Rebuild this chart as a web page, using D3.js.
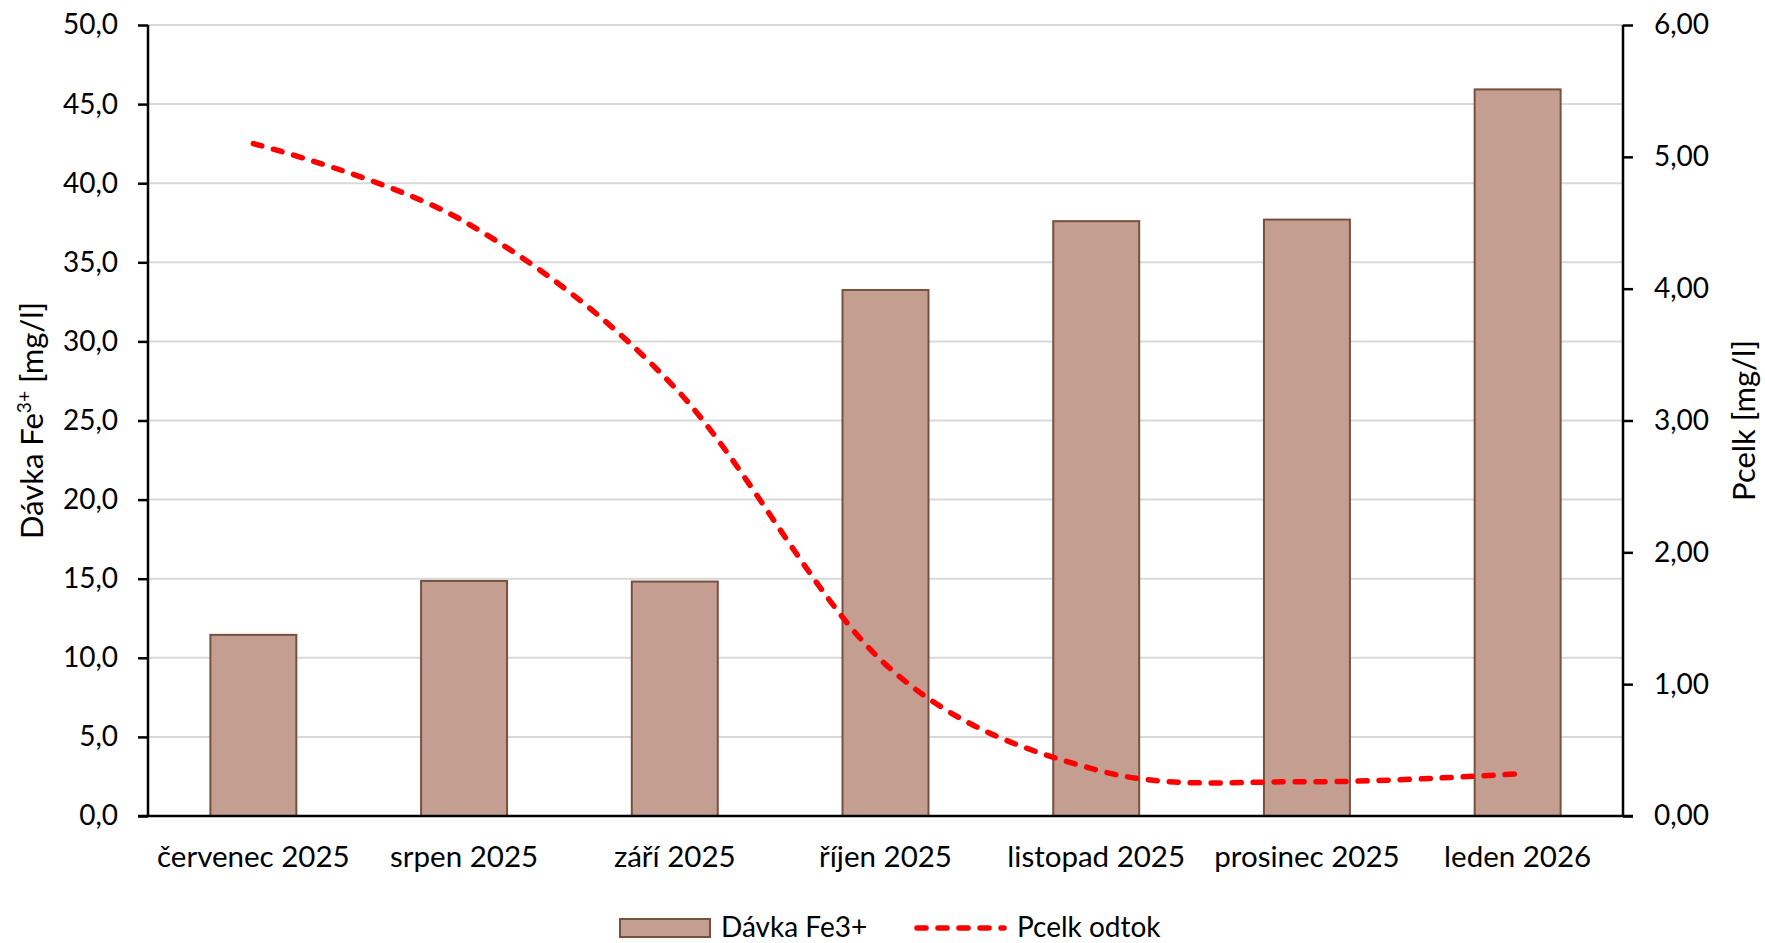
<!DOCTYPE html>
<html><head><meta charset="utf-8">
<script src="https://cdn.jsdelivr.net/npm/d3@7"></script>
<style>
html,body{margin:0;padding:0;background:#fff;}
svg{display:block;font-family:Lato, "Noto Sans", sans-serif;}
</style></head>
<body>
<svg id="chart" width="1765" height="943"></svg>
<script>
const categories = ["červenec 2025","srpen 2025","září 2025","říjen 2025","listopad 2025","prosinec 2025","leden 2026"];
const doseFe = [11.45, 14.86, 14.82, 33.25, 37.6, 37.7, 45.93];
const pTotal = [5.10, 4.51, 3.25, 1.15, 0.35, 0.26, 0.32];
const leftTicks = [0,5,10,15,20,25,30,35,40,45,50];
const rightTicks = [0,1,2,3,4,5,6];
const seriesNames = ["Dávka Fe3+","Pcelk odtok"];

const svg = d3.select("#chart");
const L = 148, R = 1623, T = 25, B = 816;
const tickFont = 28, catFont = 29.5, titleFont = 31;

const x = d3.scaleBand().domain(categories).range([L, R]).paddingInner(0.592).paddingOuter(0.296);
const yL = d3.scaleLinear().domain([0, 50]).range([B, T]);
const yR = d3.scaleLinear().domain([0, 6]).range([B, T]);

// gridlines
svg.append("g").selectAll("line").data(leftTicks.slice(1)).join("line")
  .attr("x1", L).attr("x2", R).attr("y1", d => yL(d)).attr("y2", d => yL(d))
  .attr("stroke", "#D9D9D9").attr("stroke-width", 2);

// bars
svg.append("g").selectAll("rect").data(doseFe).join("rect")
  .attr("x", (d,i) => x(categories[i]))
  .attr("y", d => yL(d))
  .attr("width", x.bandwidth())
  .attr("height", d => yL(0) - yL(d))
  .attr("fill", "#C49E91").attr("stroke", "#77513F").attr("stroke-width", 2);

// left axis
const gL = svg.append("g").attr("transform", `translate(${L},0)`)
  .call(d3.axisLeft(yL).tickValues(leftTicks).tickSize(10).tickPadding(20)
    .tickFormat(d => d3.format(".1f")(d).replace(".", ",")));
// right axis
const gR = svg.append("g").attr("transform", `translate(${R},0)`)
  .call(d3.axisRight(yR).tickValues(rightTicks).tickSize(10).tickPadding(21)
    .tickFormat(d => d3.format(".2f")(d).replace(".", ",")));
// bottom axis
const gB = svg.append("g").attr("transform", `translate(0,${B})`)
  .call(d3.axisBottom(x).tickSize(0).tickPadding(30));

[gL, gR, gB].forEach(g => {
  g.select(".domain").attr("stroke", "#000").attr("stroke-width", 2.5);
  g.selectAll(".tick line").attr("stroke", "#000").attr("stroke-width", 2.5);
  g.selectAll("text").attr("font-family", "Lato, 'Noto Sans', sans-serif")
    .attr("font-size", tickFont).attr("fill", "#000");
});
gL.select(".domain").attr("d", `M0,${T}V${B}`);
gR.select(".domain").attr("d", `M0,${T}V${B}`);
gB.select(".domain").attr("d", `M${L-10},0H${R+10}`);
gB.selectAll("text").attr("dy", "0.71em").attr("font-size", catFont);

// line
const line = d3.line()
  .x((d,i) => x(categories[i]) + x.bandwidth()/2)
  .y(d => yR(d))
  .curve(d3.curveCatmullRom.alpha(0));
svg.append("path").datum(pTotal).attr("d", line)
  .attr("fill", "none").attr("stroke", "#FF0000").attr("stroke-width", 5.5)
  .attr("stroke-dasharray", "9,12").attr("stroke-linecap", "round");

// axis titles
const tL = svg.append("text").attr("transform", `translate(43,${(T+B)/2}) rotate(-90)`)
  .attr("text-anchor", "middle").attr("font-size", titleFont).attr("fill", "#000");
tL.append("tspan").text("Dávka Fe");
tL.append("tspan").text("3+").attr("font-size", titleFont*0.62).attr("dy", -12);
tL.append("tspan").text(" [mg/l]").attr("dy", 12);

svg.append("text").attr("transform", `translate(1755,${(T+B)/2}) rotate(-90)`)
  .attr("text-anchor", "middle").attr("font-size", titleFont).attr("fill", "#000")
  .text("Pcelk [mg/l]");

// legend
const lg = svg.append("g");
lg.append("rect").attr("x", 620).attr("y", 919).attr("width", 90).attr("height", 18)
  .attr("fill", "#C49E91").attr("stroke", "#77513F").attr("stroke-width", 2);
lg.append("text").attr("x", 721).attr("y", 937).attr("font-size", tickFont).text(seriesNames[0]);
lg.append("line").attr("x1", 917).attr("x2", 1004).attr("y1", 928).attr("y2", 928)
  .attr("stroke", "#FF0000").attr("stroke-width", 5.5)
  .attr("stroke-dasharray", "9,12").attr("stroke-linecap", "round");
lg.append("text").attr("x", 1017).attr("y", 937).attr("font-size", tickFont).text(seriesNames[1]);
</script>
</body></html>
